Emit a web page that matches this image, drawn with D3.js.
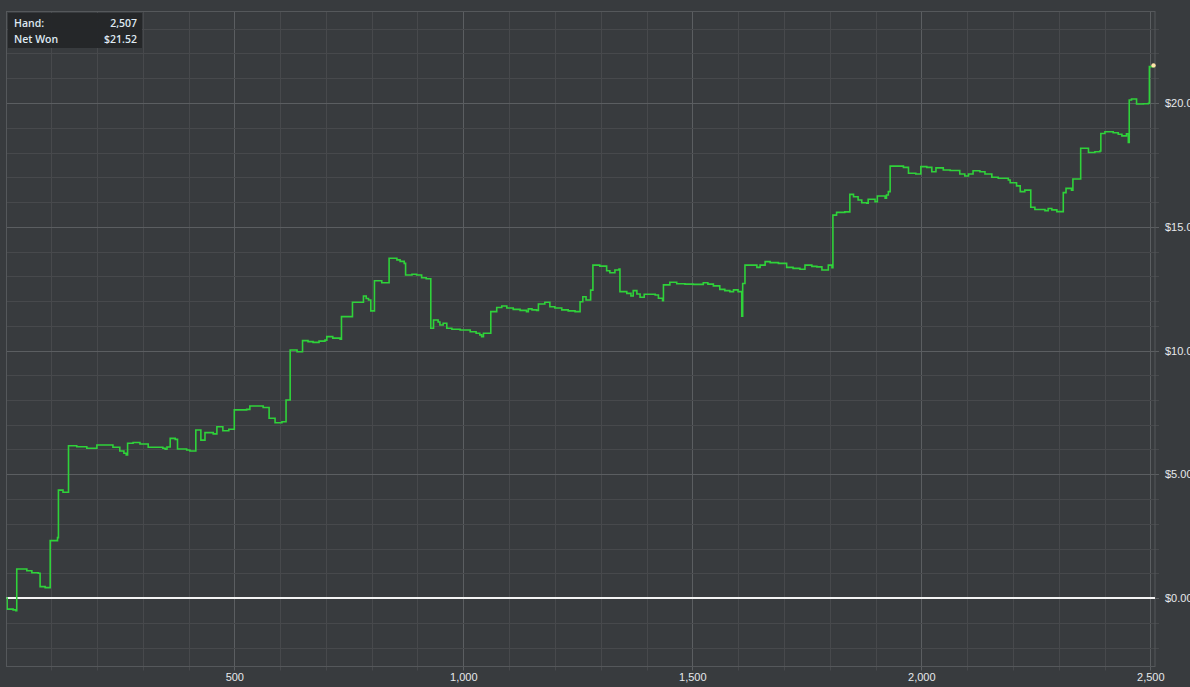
<!DOCTYPE html>
<html>
<head>
<meta charset="utf-8">
<script src="https://cdn.jsdelivr.net/npm/d3@7"></script>
<style>
  html, body { margin:0; padding:0; background:#383b3e; overflow:hidden; }
  svg { display:block; font-family:"Open Sans", "DejaVu Sans", sans-serif; }
</style>
</head>
<body>
<div id="chart"></div>
<script>
// hand number where each step starts, and the running net won ($) from that hand
const hands = [0,3,4,17,23,25,47,58,72,76,87,98,114,116,126,138,156,178,200,235,250,259,264,267,279,294,312,344,349,353,360,371,376,396,403,416,427,436,454,462,475,488,500,527,534,563,576,589,604,613,622,637,649,661,672,685,698,702,715,731,734,758,782,788,793,798,806,822,838,855,862,871,874,888,898,909,919,929,935,945,949,956,964,975,993,1015,1028,1036,1040,1044,1060,1073,1084,1095,1109,1124,1138,1142,1150,1160,1164,1178,1189,1200,1215,1229,1244,1255,1261,1268,1278,1283,1298,1313,1320,1331,1340,1342,1357,1366,1371,1379,1386,1395,1419,1426,1435,1437,1451,1466,1484,1502,1524,1534,1546,1560,1571,1582,1590,1600,1608,1610,1615,1641,1648,1659,1670,1688,1706,1720,1735,1746,1761,1772,1783,1797,1805,1807,1815,1833,1844,1852,1862,1870,1881,1884,1899,1904,1921,1924,1928,1932,1961,1972,1988,1999,2012,2023,2032,2048,2063,2084,2095,2103,2113,2128,2139,2154,2168,2190,2194,2208,2216,2226,2239,2248,2270,2277,2285,2296,2310,2316,2328,2331,2348,2365,2379,2390,2392,2401,2419,2430,2438,2448,2452,2454,2459,2470,2485,2496,2498,2507];
const netWon = [0,0,-0.45,-0.48,-0.51,1.17,1.10,1.02,1.00,0.46,0.42,2.32,2.44,4.36,4.27,6.15,6.11,6.05,6.18,6.09,5.94,5.85,5.78,6.25,6.28,6.22,6.09,6.05,6.01,6.10,6.45,6.41,6.02,5.98,5.94,6.79,6.38,6.68,6.63,6.92,6.76,6.82,7.60,7.62,7.76,7.70,7.26,7.08,7.12,8.00,10.02,9.95,10.40,10.36,10.33,10.38,10.42,10.56,10.50,10.46,11.37,11.95,12.20,12.10,12.04,11.60,12.82,12.74,13.73,13.66,13.60,13.52,13.05,13.08,13.05,12.94,12.90,10.90,11.23,11.15,11.03,11.10,10.90,10.86,10.83,10.76,10.70,10.63,10.56,10.70,11.57,11.74,11.80,11.72,11.66,11.62,11.57,11.68,11.64,11.62,11.88,11.95,11.77,11.72,11.64,11.60,11.57,11.97,12.17,12.04,12.44,13.45,13.41,13.22,13.14,13.25,13.29,12.38,12.31,12.20,12.42,12.28,12.15,12.27,12.24,12.11,12.01,12.65,12.76,12.70,12.68,12.67,12.74,12.68,12.61,12.47,12.42,12.38,12.45,12.38,11.39,12.71,13.45,13.36,13.45,13.59,13.55,13.52,13.36,13.32,13.28,13.45,13.40,13.38,13.25,13.45,13.35,15.47,15.58,15.60,16.31,16.21,16.08,15.97,15.95,16.11,16.01,16.24,16.15,16.28,16.42,17.45,17.40,17.16,17.13,17.43,17.40,17.22,17.38,17.29,17.27,17.13,17.05,17.13,17.26,17.22,17.13,17.00,16.96,16.89,16.78,16.65,16.42,16.48,15.79,15.70,15.65,15.74,15.68,15.61,16.38,16.55,16.48,16.93,18.17,18.00,18.03,18.06,18.77,18.84,18.80,18.74,18.67,18.76,18.41,20.12,20.16,19.96,19.97,19.99,21.47,21.52];

const xMinorTicks = d3.range(100, 2600, 100);
const xLabelTicks = [500, 1000, 1500, 2000, 2500];
const yMinorTicks = d3.range(-2, 24, 1);
const yLabelTicks = [0, 5, 10, 15, 20];
const tipRows = [["Hand:", "2,507"], ["Net Won", "$21.52"]];

const W = 1190, H = 687;
const frame = { left:6.5, right:1155, top:11.5, bottom:666.5 };

const svg = d3.select('#chart').append('svg').attr('width', W).attr('height', H);
svg.append('rect').attr('width', W).attr('height', H).attr('fill', '#383b3e');

const x = d3.scaleLinear().domain([0, 2500]).range([5.3, 1150.3]);
const y = d3.scaleLinear().domain([0, 20]).range([598, 103]);

svg.append('clipPath').attr('id','plotClip').append('rect')
   .attr('x', frame.left).attr('y', frame.top).attr('width', frame.right-frame.left).attr('height', frame.bottom-frame.top);

// grid lines
const grid = svg.append('g');
grid.selectAll('line.vx').data(xMinorTicks).enter().append('line')
    .attr('x1', d=>Math.round(x(d))+0.5).attr('x2', d=>Math.round(x(d))+0.5)
    .attr('y1', frame.top).attr('y2', frame.bottom+4)
    .attr('stroke', d=> d%500===0 ? '#5b5e61' : '#47494c').attr('stroke-width', 1);
grid.selectAll('line.hy').data(yMinorTicks.filter(d=>y(d)>frame.top && y(d)<frame.bottom)).enter().append('line')
    .attr('x1', frame.left).attr('x2', frame.right+4)
    .attr('y1', d=>Math.round(y(d))+0.5).attr('y2', d=>Math.round(y(d))+0.5)
    .attr('stroke', d=> d%5===0 ? '#5b5e61' : '#47494c').attr('stroke-width', 1);

// frame
svg.append('rect').attr('x', frame.left).attr('y', frame.top)
   .attr('width', frame.right-frame.left).attr('height', frame.bottom-frame.top)
   .attr('fill','none').attr('stroke','#55585b').attr('stroke-width',1);

// zero line
svg.append('line').attr('x1', frame.left).attr('x2', frame.right)
   .attr('y1', y(0)).attr('y2', y(0)).attr('stroke','#f4f4f4').attr('stroke-width',2);

// axes labels
const yAxis = d3.axisRight(y).tickValues(yLabelTicks).tickSize(0).tickPadding(0).tickFormat(d=>'$'+d3.format('.2f')(d));
const ya = svg.append('g').attr('transform', `translate(${frame.right+10},0)`).call(yAxis);
ya.select('.domain').remove();
ya.selectAll('text').attr('fill','#e6e9ec').style('font-size','11px');

const xAxis = d3.axisBottom(x).tickValues(xLabelTicks).tickSize(0).tickPadding(0).tickFormat(d3.format(','));
const xa = svg.append('g').attr('transform', `translate(0,${frame.bottom+7})`).call(xAxis);
xa.select('.domain').remove();
xa.selectAll('text').attr('fill','#e6e9ec').style('font-size','11px');

// net won line
const pts = hands.map((h,i)=>({h, v:netWon[i]}));
const line = d3.line().x(d=>x(d.h)).y(d=>y(d.v)).curve(d3.curveStepAfter);
svg.append('path').datum(pts).attr('d', line).attr('clip-path','url(#plotClip)')
   .attr('fill','none').attr('stroke','#2fd23a').attr('stroke-width',1.6).attr('stroke-linejoin','miter');

const last = pts[pts.length-1];
svg.append('circle').attr('cx', x(last.h)).attr('cy', y(last.v)).attr('r', 2.2).attr('fill','#ffe4a8');

// info box
const tip = svg.append('g');
tip.append('rect').attr('x', 8).attr('y', 13).attr('width', 134).attr('height', 35).attr('fill','#242628').attr('opacity',0.95);
tipRows.forEach((r,i)=>{
  tip.append('text').attr('x', 14).attr('y', 27 + i*16).attr('fill','#dfe9f2')
     .style('font-size','10.5px').style('font-weight','600').text(r[0]);
  tip.append('text').attr('x', 137).attr('y', 27 + i*16).attr('text-anchor','end').attr('fill','#dfe9f2')
     .style('font-size','10.5px').style('font-weight','600').text(r[1]);
});
</script>
</body>
</html>
